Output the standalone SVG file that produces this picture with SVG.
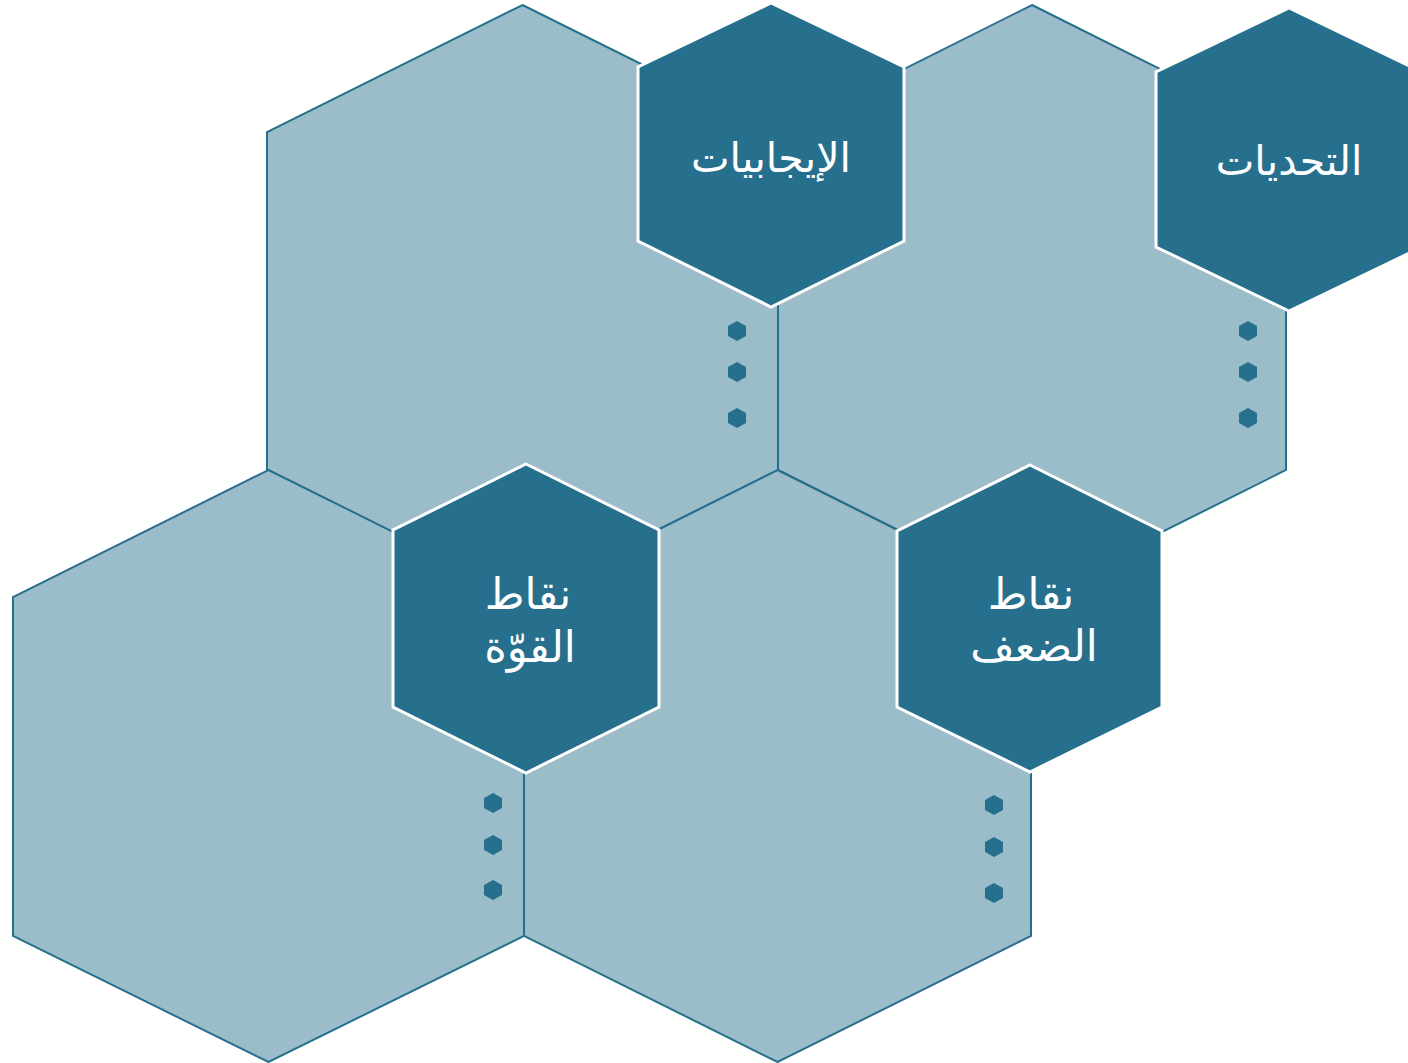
<svg xmlns="http://www.w3.org/2000/svg" width="1408" height="1063" viewBox="0 0 1408 1063">
<style>
.big{fill:#9bbdc9;stroke:#27708d;stroke-width:2;stroke-linejoin:miter}
.dark{fill:#27708d;stroke:#ffffff;stroke-width:3;stroke-linejoin:miter}
.dot{fill:#27708d}
.lbl{fill:#ffffff;font-family:"DejaVu Sans","Noto Sans",sans-serif;font-size:41px;text-anchor:middle}
.lbl2{fill:#ffffff;font-family:"DejaVu Sans","Noto Sans",sans-serif;font-size:43px;text-anchor:middle}
</style>
<defs>
<polygon id="dotshape" points="0,-10 9,-5 9,5 0,10 -9,5 -9,-5"/>
</defs>
<rect width="1408" height="1063" fill="#ffffff"/>
<g id="panel-top-left"><polygon class="big" points="522.5,5 778,132 778,470 522.5,597 267,470 267,132"/></g>
<g id="panel-top-right"><polygon class="big" points="1032,5 1286,132 1286,470 1032,597 778,470 778,132"/></g>
<g id="panel-bottom-left"><polygon class="big" points="268.5,470 524,597 524,936 268.5,1062 13,936 13,597"/></g>
<g id="panel-bottom-right"><polygon class="big" points="777.5,470 1031,597 1031,936 777.5,1062 524,936 524,597"/></g>
<g id="connectors"></g>
<g id="dots-positives">
<use href="#dotshape" class="dot" x="737" y="331"/>
<use href="#dotshape" class="dot" x="737" y="372"/>
<use href="#dotshape" class="dot" x="737" y="418"/>
</g>
<g id="dots-challenges">
<use href="#dotshape" class="dot" x="1248" y="331"/>
<use href="#dotshape" class="dot" x="1248" y="372"/>
<use href="#dotshape" class="dot" x="1248" y="418"/>
</g>
<g id="dots-strengths">
<use href="#dotshape" class="dot" x="493" y="803"/>
<use href="#dotshape" class="dot" x="493" y="845"/>
<use href="#dotshape" class="dot" x="493" y="890"/>
</g>
<g id="dots-weaknesses">
<use href="#dotshape" class="dot" x="994" y="805"/>
<use href="#dotshape" class="dot" x="994" y="847"/>
<use href="#dotshape" class="dot" x="994" y="893"/>
</g>
<g id="node-positives">
<polygon class="dark" points="771,3 904,67 904,241 771,307 638,241 638,67"/>
<text class="lbl" x="771" y="172">الإيجابيات</text>
</g>
<g id="node-challenges">
<polygon class="dark" points="1289,8 1422,72 1422,247 1289,311 1156,247 1156,72"/>
<text class="lbl" x="1289" y="175">التحديات</text>
</g>
<g id="node-strengths">
<polygon class="dark" points="526,464 659,530 659,707 526,773 393,707 393,530"/>
<text class="lbl2" x="528" y="609">نقاط</text>
<text class="lbl2" x="530" y="662">القوّة</text>
</g>
<g id="node-weaknesses">
<polygon class="dark" points="1030,465 1162,531 1162,707 1030,772 897,707 897,531"/>
<text class="lbl2" x="1031" y="609">نقاط</text>
<text class="lbl2" x="1034" y="661">الضعف</text>
</g>
</svg>
